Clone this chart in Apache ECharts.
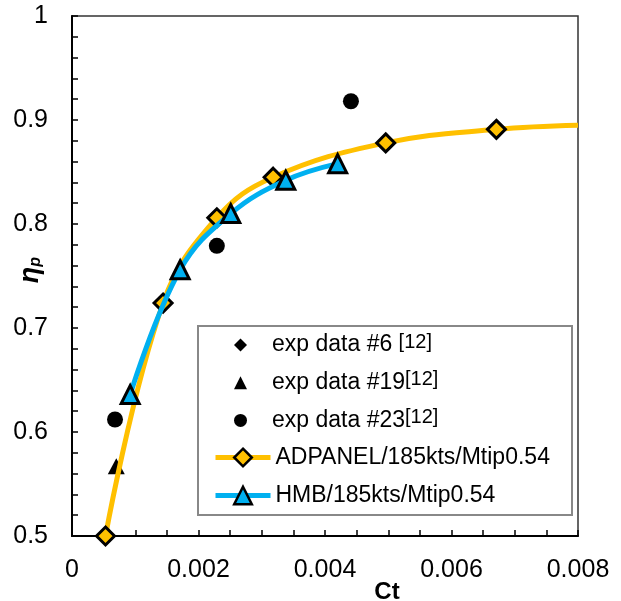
<!DOCTYPE html>
<html>
<head>
<meta charset="utf-8">
<script src="https://cdn.jsdelivr.net/npm/echarts@6/dist/echarts.min.js"></script>
<style>
  html, body { margin: 0; padding: 0; background: #fff; }
  #chart { width: 621px; height: 601px; }
</style>
</head>
<body>
<div id="chart"></div>
<script>
// ---- data ----
const exp6Ct = [];          // no #6 point visible in the plot
const exp6Eta = [];
const exp19Ct = [0.00070];
const exp19Eta = [0.567];
const exp23Ct = [0.00068, 0.00229, 0.00441];
const exp23Eta = [0.612, 0.779, 0.918];

const adpanelCt = [0.00053, 0.00144, 0.00229, 0.00318, 0.00496, 0.00671];
const adpanelEta = [0.500, 0.724, 0.806, 0.845, 0.878, 0.891];
const adpanelCurveEnd = [0.008, 0.895];   // end of the fitted curve (no marker)

const hmbCt = [0.00092, 0.00171, 0.00251, 0.00338, 0.00420];
const hmbEta = [0.636, 0.756, 0.810, 0.842, 0.858];

const xTicks = ['0', '0.002', '0.004', '0.006', '0.008'];
const yTicks = ['0.5', '0.6', '0.7', '0.8', '0.9', '1'];

const ORANGE = '#FFC000';
const BLUE = '#00B0F0';
const FONT = 'Liberation Sans, Arial, sans-serif';

const pairs = (xs, ys) => xs.map((x, i) => [x, ys[i]]);

const adpanelData = pairs(adpanelCt, adpanelEta);
adpanelData.push({ value: adpanelCurveEnd, symbol: 'none' });

const chart = echarts.init(document.getElementById('chart'));

const supStyle = { fontFamily: FONT, fontSize: 20, lineHeight: 20, verticalAlign: 'top', color: '#000' };
const legendFormatter = function (name) {
  if (name === 'exp data #6') return 'exp data #6 {sup|[12]}';
  if (name === 'exp data #19') return 'exp data #19{sup|[12]}';
  if (name === 'exp data #23') return 'exp data #23{sup|[12]}';
  return name;
};

const option = {
  animation: false,
  backgroundColor: '#fff',
  grid: {
    left: 72, right: 43, top: 16, bottom: 65,
    outerBoundsMode: 'none',
    containLabel: false,
    show: true, borderColor: '#333', borderWidth: 1.5
  },
  xAxis: {
    type: 'value',
    min: 0, max: 0.008, interval: 0.002,
    name: 'Ct',
    nameLocation: 'middle',
    nameGap: 44,
    nameMoveOverlap: false,
    nameTextStyle: { fontFamily: FONT, fontSize: 24, fontWeight: 'bold', color: '#000', padding: [0, 0, 0, 124] },
    axisLine: { show: true, onZero: false, lineStyle: { color: '#000', width: 2 } },
    axisTick: { inside: true, length: 6, lineStyle: { color: '#000', width: 1.5 } },
    minorTick: { show: true, splitNumber: 4, length: 6, lineStyle: { color: '#000', width: 1.5 } },
    axisLabel: {
      margin: 22, fontFamily: FONT, fontSize: 25, color: '#000',
      formatter: v => xTicks[Math.round(v / 0.002)]
    },
    splitLine: { show: false }
  },
  yAxis: {
    type: 'value',
    min: 0.5, max: 1, interval: 0.1,
    name: '{eta|η}{sub|p}',
    nameLocation: 'middle',
    nameRotate: 90,
    nameGap: 28,
    nameMoveOverlap: false,
    nameTextStyle: {
      padding: [0, 0, 0, 12],
      rich: {
        eta: { fontFamily: FONT, fontSize: 27, fontStyle: 'italic', fontWeight: 'bold', color: '#000' },
        sub: { fontFamily: FONT, fontSize: 16, fontStyle: 'italic', fontWeight: 'bold', color: '#000', verticalAlign: 'bottom', lineHeight: 22 }
      }
    },
    axisLine: { show: true, onZero: false, lineStyle: { color: '#000', width: 2 } },
    axisTick: { inside: true, length: 6, lineStyle: { color: '#000', width: 1.5 } },
    minorTick: { show: true, splitNumber: 5, length: 6, lineStyle: { color: '#000', width: 1.5 } },
    axisLabel: {
      margin: 24, fontFamily: FONT, fontSize: 25, color: '#000',
      formatter: v => yTicks[Math.round((v - 0.5) / 0.1)]
    },
    splitLine: { show: false }
  },
  legend: [
    {
      // experimental points
      orient: 'vertical',
      left: 234, top: 332,
      padding: 0,
      itemWidth: 13, itemHeight: 13,
      itemGap: 11.7,
      data: ['exp data #6', 'exp data #19', 'exp data #23'],
      itemStyle: { opacity: 1 },
      textStyle: {
        color: '#000', fontFamily: FONT, fontSize: 23, lineHeight: 26,
        padding: [0, 0, 0, 20],
        rich: { sup: supStyle }
      },
      formatter: legendFormatter
    },
    {
      // computed curves
      orient: 'vertical',
      left: 213, top: 444.5,
      padding: 0,
      itemWidth: 55, itemHeight: 22,
      itemGap: 12,
      data: ['ADPANEL/185kts/Mtip0.54', 'HMB/185kts/Mtip0.54'],
      itemStyle: { borderColor: '#000', borderWidth: 2.5 },
      lineStyle: { width: 5 },
      textStyle: {
        color: '#000', fontFamily: FONT, fontSize: 23, lineHeight: 26,
        rich: { sup: supStyle }
      },
      formatter: legendFormatter
    }
  ],
  graphic: [
    {
      type: 'rect',
      left: 197, top: 325,
      shape: { width: 374, height: 189 },
      style: { fill: 'transparent', stroke: '#888', lineWidth: 2 },
      z: 0
    }
  ],
  series: [
    {
      name: 'exp data #6', type: 'scatter',
      symbol: 'diamond', symbolSize: 16,
      itemStyle: { color: '#000', opacity: 1 },
      data: pairs(exp6Ct, exp6Eta)
    },
    {
      name: 'exp data #19', type: 'scatter',
      symbol: 'triangle', symbolSize: [17, 16],
      itemStyle: { color: '#000', opacity: 1 },
      data: pairs(exp19Ct, exp19Eta)
    },
    {
      name: 'exp data #23', type: 'scatter',
      symbol: 'circle', symbolSize: 16,
      itemStyle: { color: '#000', opacity: 1 },
      data: pairs(exp23Ct, exp23Eta)
    },
    {
      name: 'ADPANEL/185kts/Mtip0.54', type: 'line',
      smooth: 0.4,
      symbol: 'diamond', symbolSize: 18, showAllSymbol: true,
      lineStyle: { color: ORANGE, width: 5 },
      itemStyle: { color: ORANGE, borderColor: '#000', borderWidth: 3 },
      data: adpanelData,
      z: 3
    },
    {
      name: 'HMB/185kts/Mtip0.54', type: 'line',
      smooth: 0.4,
      symbol: 'triangle', symbolSize: 18, showAllSymbol: true,
      lineStyle: { color: BLUE, width: 5 },
      itemStyle: { color: BLUE, borderColor: '#000', borderWidth: 3 },
      data: pairs(hmbCt, hmbEta),
      z: 4
    }
  ]
};

chart.setOption(option);
</script>
</body>
</html>
